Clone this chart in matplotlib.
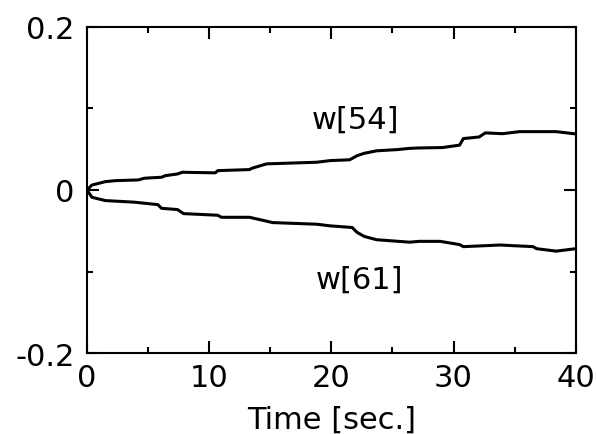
import matplotlib
matplotlib.use("Agg")
import matplotlib.pyplot as plt
from matplotlib.ticker import MultipleLocator

# traced values of the two weights (time in sec., weight)
t54 = [0, 0.4, 1.5, 2.3, 4.2, 4.7, 6.1, 6.4, 7.4, 7.8, 10.5, 10.7, 13.3, 13.5,
       14.7, 18.8, 19.9, 21.5, 22.1, 22.7, 23.7, 25.4, 26.4, 27.2, 29.1, 30.5,
       30.8, 32.1, 32.6, 34.0, 35.4, 38.4, 40]
w54 = [0, 0.006, 0.0102, 0.0114, 0.0123, 0.0144, 0.0156, 0.0175, 0.0196, 0.0217,
       0.021, 0.0237, 0.0250, 0.0266, 0.032, 0.034, 0.036, 0.037, 0.042, 0.045,
       0.048, 0.0495, 0.051, 0.0515, 0.052, 0.055, 0.063, 0.065, 0.070, 0.069,
       0.0715, 0.0715, 0.0687]

t61 = [0, 0.4, 1.5, 3.9, 5.8, 6.1, 7.4, 7.9, 10.7, 11.0, 13.3, 15.2, 18.8, 19.9,
       21.7, 22.1, 22.7, 23.7, 26.4, 27.2, 28.9, 30.5, 30.8, 33.8, 36.5, 36.8,
       38.4, 40]
w61 = [0, -0.009, -0.013, -0.015, -0.018, -0.0225, -0.024, -0.029, -0.031, -0.0335,
       -0.0335, -0.040, -0.042, -0.044, -0.046, -0.052, -0.057, -0.061, -0.064,
       -0.063, -0.063, -0.067, -0.0695, -0.0675, -0.0695, -0.072, -0.075, -0.072]

fs = 22

fig = plt.figure(figsize=(5.96, 4.35), dpi=100)
ax = fig.add_axes([0.146, 0.186, 0.82, 0.75])

ax.plot(t54, w54, color="black", lw=2.2)
ax.plot(t61, w61, color="black", lw=2.2)

ax.text(22.0, 0.087, "w[54]", fontsize=fs, ha="center", va="center")
ax.text(22.3, -0.109, "w[61]", fontsize=fs, ha="center", va="center")

ax.set_xlim(0, 40)
ax.set_ylim(-0.2, 0.2)
ax.set_xticks([0, 10, 20, 30, 40])
ax.set_yticks([-0.2, 0, 0.2])
ax.set_yticklabels(["-0.2", "0", "0.2"])
ax.xaxis.set_minor_locator(MultipleLocator(5))
ax.yaxis.set_minor_locator(MultipleLocator(0.1))
ax.tick_params(which="both", direction="in", top=True, right=True,
               labelsize=fs, width=1.5)
ax.tick_params(which="major", length=8.5)
ax.tick_params(which="minor", length=4.5)
ax.tick_params(axis="x", pad=7)
ax.tick_params(axis="y", pad=9)
for s in ax.spines.values():
    s.set_linewidth(1.5)

ax.set_xlabel("Time [sec.]", fontsize=fs, labelpad=9)

fig.savefig("out.png", dpi=100)
